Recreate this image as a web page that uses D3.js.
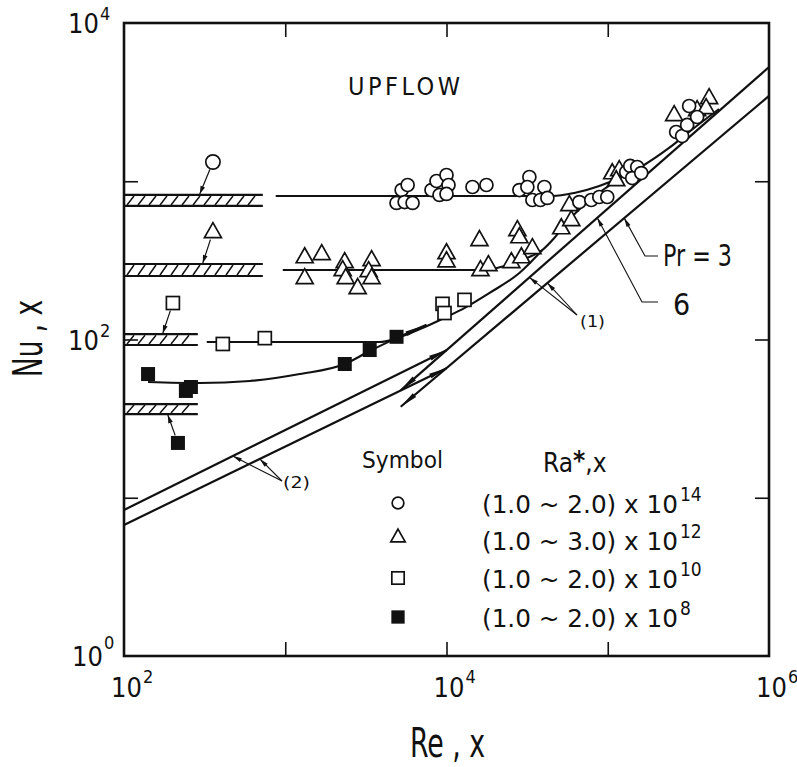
<!DOCTYPE html>
<html>
<head>
<meta charset="utf-8">
<script src="https://cdn.jsdelivr.net/npm/d3@7"></script>
<style>
  body { margin: 0; background: #fff; }
  svg { display: block; }
  text { font-family: "Liberation Sans Narrow", "DejaVu Sans Condensed", "Liberation Sans", Arial, sans-serif; fill: #111; }
</style>
</head>
<body>
<svg id="chart" width="797" height="767"></svg>
<script>
// ---------------- data ----------------
// axis ticks (decades) and the decades that carry a label
const reTicks = [1e2, 1e3, 1e4, 1e5, 1e6];
const nuTicks = [1e0, 1e1, 1e2, 1e3, 1e4];
const reLabelExps = [2, 4, 6];
const nuLabelExps = [0, 2, 4];

// measured local Nusselt numbers [Re_x, Nu_x]
const ra14Points = [
  [4900, 729], [5270, 880], [5740, 947], [5500, 739], [6160, 729],
  [8070, 880], [8670, 1004], [10000, 1095], [10290, 947], [9050, 819], [10000, 831],
  [14490, 920], [17690, 947],
  [28310, 880], [32660, 1064], [31730, 920], [40450, 920], [34090, 761], [38200, 761], [42220, 784],
  [66620, 739], [79030, 761], [88600, 795], [99290, 795],
  [130200, 1144], [137800, 1249], [152300, 1230], [141800, 1048], [161300, 1127],
  [265600, 2048], [289300, 1932], [310700, 2268], [319700, 2989], [358300, 2547]
];
const ra12Points = [
  [1320, 332], [1683, 347], [1320, 245], [2336, 309], [2270, 275], [2370, 245], [2812, 212],
  [3432, 318], [3289, 271], [3432, 245],
  [10000, 352], [10000, 313], [16010, 426], [16240, 275], [18200, 296], [25260, 309],
  [27520, 492], [28310, 444], [29130, 332], [34090, 379],
  [51500, 506], [59400, 569], [57800, 708],
  [106600, 1127], [117800, 1178], [112900, 1018],
  [258100, 2622], [358300, 2820], [425100, 3358], [407300, 2904]
];
const ra10Points = [[410, 93.7], [747, 102], [9450, 168], [9720, 147], [12930, 178]];
const ra8Points = [[141, 60.5], [242, 47.3], [260, 50.1], [2340, 70.0], [3340, 85.8], [4900, 104]];

// faired curves through each data group
const ra14Curve = [[873, 807], [45300, 807], [62000, 843], [88600, 933], [121000, 1064],
  [168000, 1267], [240000, 1623], [343000, 2171], [490000, 2862]];
const ra12Curve = [[965, 275], [16700, 275], [22900, 291], [30400, 323], [39300, 368],
  [46600, 438], [55300, 545], [73600, 729], [95100, 893], [121000, 1064]];
const ra10Curve = [[326, 96.4], [3850, 96.4], [4900, 102], [6800, 116], [10000, 139],
  [12900, 158], [18500, 197], [28300, 263], [39300, 368]];
const ra8Curve = [[141, 53.9], [295, 53.1], [603, 54.7], [1230, 60.5], [2340, 70.0],
  [3340, 84.6], [4900, 102], [7520, 124]];

// forced-convection predictions: laminar (2) and turbulent (1), Pr = 6 and Pr = 3
const laminarPr6 = [[1e2, 8.37], [1e4, 85.6]];
const laminarPr3 = [[1e2, 6.73], [1e4, 65.9]];
const turbulentPr6 = [[5200, 47.7], [1e6, 5270]];
const turbulentPr3 = [[5200, 37.6], [1e6, 3460]];

// pure free-convection levels (hatched bands) and the single points above them
const bandShapes = ["circle", "triangle", "square", "filled"];
const bandTopNu = [819, 300, 108, 39.1];
const bandBottomNu = [698, 252, 92.3, 33.8];
const bandEndRe = [726, 726, 287, 287];
const freeRe = [356, 356, 201, 216];
const freeNu = [1323, 478, 170, 22.2];
const freeArrowRe = [295, 308, 174, 187];

// legend
const legendShapes = ["circle", "triangle", "square", "filled"];
const legendRanges = ["(1.0 ~ 2.0) x 10", "(1.0 ~ 3.0) x 10", "(1.0 ~ 2.0) x 10", "(1.0 ~ 2.0) x 10"];
const legendExps = ["14", "12", "10", "8"];

// ---------------- drawing ----------------
const svg = d3.select("#chart");
const L = 124, R = 769, T = 23, B = 656;
const x = d3.scaleLog().domain([1e2, 1e6]).range([L, R]);
const y = d3.scaleLog().domain([1, 1e4]).range([B, T]);
const ink = "#111";

const line = d3.line().x(d => x(d[0])).y(d => y(d[1]));
const smooth = d3.line().x(d => x(d[0])).y(d => y(d[1])).curve(d3.curveMonotoneX);

// Nu on a straight log-log segment at a given Re
function nuOn(seg, re) {
  const [a, b] = seg;
  const t = (Math.log10(re) - Math.log10(a[0])) / (Math.log10(b[0]) - Math.log10(a[0]));
  return Math.pow(10, Math.log10(a[1]) + t * (Math.log10(b[1]) - Math.log10(a[1])));
}

function arrowHead(g, x1, y1, x2, y2, len, half) {
  const ang = Math.atan2(y2 - y1, x2 - x1);
  const bx = x2 - len * Math.cos(ang), by = y2 - len * Math.sin(ang);
  const nx = -Math.sin(ang) * half, ny = Math.cos(ang) * half;
  g.append("path")
    .attr("d", `M${x2},${y2}L${bx + nx},${by + ny}L${bx - nx},${by - ny}Z`)
    .attr("fill", ink);
}

// power-of-ten label as one text element: "10" plus a raised exponent
function powerLabel(g, px, py, exp, size, supSize, rise) {
  const t = g.append("text").attr("x", px).attr("y", py).attr("font-size", size);
  t.append("tspan").text("10");
  t.append("tspan").attr("dx", 1).attr("dy", -rise).attr("font-size", supSize).text(exp);
  return t;
}

// axes: inward decade ticks on all four sides
const axes = svg.append("g").attr("class", "axes");
const inner = 14;
axes.append("g").attr("transform", `translate(0,${B})`)
  .call(d3.axisBottom(x).tickValues(reTicks.slice(1, -1)).tickSize(-inner).tickFormat(""));
axes.append("g").attr("transform", `translate(0,${T})`)
  .call(d3.axisTop(x).tickValues(reTicks.slice(1, -1)).tickSize(-inner).tickFormat(""));
axes.append("g").attr("transform", `translate(${L},0)`)
  .call(d3.axisLeft(y).tickValues(nuTicks.slice(1, -1)).tickSize(-inner).tickFormat(""));
axes.append("g").attr("transform", `translate(${R},0)`)
  .call(d3.axisRight(y).tickValues(nuTicks.slice(1, -1)).tickSize(-inner).tickFormat(""));
axes.selectAll(".domain").remove();
axes.selectAll(".tick line").attr("stroke", ink).attr("stroke-width", 1.6);
svg.append("rect").attr("x", L).attr("y", T).attr("width", R - L).attr("height", B - T)
  .attr("fill", "none").attr("stroke", ink).attr("stroke-width", 2.6);

// tick labels 10^n
const labels = svg.append("g");
reLabelExps.forEach(e => {
  const cx = x(Math.pow(10, e));
  powerLabel(labels, cx - 13, 697, String(e), 27, 18, 14);
});
nuLabelExps.forEach(e => {
  const cy = y(Math.pow(10, e));
  powerLabel(labels, e === 0 ? 72 : 68, cy + 10, String(e), 27, 18, e === 0 ? 17 : 13);
});

// axis titles
svg.append("text").attr("x", 410).attr("y", 757).attr("font-size", 40)
  .attr("textLength", 75).attr("lengthAdjust", "spacingAndGlyphs").text("Re , x");
svg.append("text").attr("transform", "translate(42,377) rotate(-90)").attr("font-size", 40)
  .attr("textLength", 77).attr("lengthAdjust", "spacingAndGlyphs").text("Nu , x");

// plot content
const plot = svg.append("g");

// theory lines
[laminarPr6, laminarPr3, turbulentPr6, turbulentPr3].forEach(seg => {
  plot.append("path").attr("d", line(seg)).attr("fill", "none")
    .attr("stroke", ink).attr("stroke-width", 2.2);
});
// arrowheads at the laminar ends and at the turbulent starts
[laminarPr6, laminarPr3].forEach(seg => {
  const p = seg[1];
  const q = [8000, nuOn(seg, 8000)];
  arrowHead(plot, x(q[0]), y(q[1]), x(p[0]), y(p[1]), 18, 2.6);
});
[turbulentPr6, turbulentPr3].forEach(seg => {
  const p = seg[0];
  const q = [7000, nuOn(seg, 7000)];
  arrowHead(plot, x(q[0]), y(q[1]), x(p[0]), y(p[1]), 18, 2.6);
});

// faired data curves
[ra14Curve, ra12Curve, ra10Curve].forEach(c => {
  plot.append("path").attr("d", smooth(c)).attr("fill", "none")
    .attr("stroke", ink).attr("stroke-width", 2.1);
});
plot.append("path").attr("d", smooth(ra8Curve)).attr("fill", "none")
  .attr("stroke", ink).attr("stroke-width", 2.1);
{
  const n = ra8Curve.length;
  const a = ra8Curve[n - 2], b = ra8Curve[n - 1];
  arrowHead(plot, x(a[0]), y(a[1]), x(b[0]), y(b[1]), 22, 2.4);
}

// hatched free-convection bands
bandTopNu.forEach((top, i) => {
  const x0 = x(1e2), x1 = x(bandEndRe[i]);
  const yt = y(top), yb = y(bandBottomNu[i]);
  const g = plot.append("g");
  g.append("line").attr("x1", x0).attr("x2", x1).attr("y1", yt).attr("y2", yt)
    .attr("stroke", ink).attr("stroke-width", 2.2);
  g.append("line").attr("x1", x0).attr("x2", x1).attr("y1", yb).attr("y2", yb)
    .attr("stroke", ink).attr("stroke-width", 2.2);
  for (let px = x0 + 3; px + 7 <= x1 - 2; px += 11) {
    g.append("line").attr("x1", px).attr("y1", yb - 1).attr("x2", px + 7).attr("y2", yt + 1)
      .attr("stroke", ink).attr("stroke-width", 1.5);
  }
});

// markers
function marker(g, shape, cx, cy, k) {
  const s = k || 1;
  if (shape === "circle") {
    g.append("circle").attr("cx", cx).attr("cy", cy).attr("r", 6.5 * s)
      .attr("fill", "#fff").attr("stroke", ink).attr("stroke-width", 1.7);
  } else if (shape === "triangle") {
    const w = 17 * s, h = 15 * s;
    g.append("path")
      .attr("d", `M${cx},${cy - h * 0.62}L${cx + w / 2},${cy + h * 0.38}L${cx - w / 2},${cy + h * 0.38}Z`)
      .attr("fill", "#fff").attr("stroke", ink).attr("stroke-width", 1.7).attr("stroke-linejoin", "miter");
  } else if (shape === "square") {
    const a = 13 * s;
    g.append("rect").attr("x", cx - a / 2).attr("y", cy - a / 2).attr("width", a).attr("height", a)
      .attr("fill", "#fff").attr("stroke", ink).attr("stroke-width", 1.7);
  } else {
    const a = 14 * s;
    g.append("rect").attr("x", cx - a / 2).attr("y", cy - a / 2).attr("width", a).attr("height", a)
      .attr("fill", ink);
  }
}

const marks = plot.append("g");
ra10Points.forEach(d => marker(marks, "square", x(d[0]), y(d[1])));
ra8Points.forEach(d => marker(marks, "filled", x(d[0]), y(d[1])));
ra12Points.forEach(d => marker(marks, "triangle", x(d[0]), y(d[1])));
ra14Points.forEach(d => marker(marks, "circle", x(d[0]), y(d[1])));

// free-convection points with arrows to their bands
freeRe.forEach((re, i) => {
  const cx = x(re), cy = y(freeNu[i]);
  marker(marks, bandShapes[i], cx, cy, i === 0 ? 1.1 : 1);
  const below = freeNu[i] < bandBottomNu[i];
  const tx = x(freeArrowRe[i]);
  const ty = below ? y(bandBottomNu[i]) + 1 : y(bandTopNu[i]) - 1;
  const ang = Math.atan2(ty - cy, tx - cx);
  const sx = cx + 8 * Math.cos(ang), sy = cy + 8 * Math.sin(ang);
  marks.append("line").attr("x1", sx).attr("y1", sy).attr("x2", tx).attr("y2", ty)
    .attr("stroke", ink).attr("stroke-width", 1.2);
  arrowHead(marks, sx, sy, tx, ty, 8, 2.4);
});

// annotations
const ann = svg.append("g");
function leader(pts, tip) {
  ann.append("path").attr("d", d3.line()(pts.concat([tip]))).attr("fill", "none")
    .attr("stroke", ink).attr("stroke-width", 1.1);
  const p = pts[pts.length - 1];
  arrowHead(ann, p[0], p[1], tip[0], tip[1], 9, 2.2);
}
// Pr = 3 (lower turbulent line) and 6 (upper turbulent line)
leader([[658, 256], [645, 256]], [x(126500), y(nuOn(turbulentPr3, 126500))]);
leader([[658, 302], [642, 302]], [x(86100), y(nuOn(turbulentPr6, 86100))]);
// (1) and (2) markers
leader([[577, 315]], [x(32660), y(nuOn(turbulentPr6, 32660))]);
leader([[577, 315]], [x(42220), y(nuOn(turbulentPr3, 42220))]);
leader([[282, 481]], [x(473), y(nuOn(laminarPr6, 473))]);
leader([[282, 481]], [x(695), y(nuOn(laminarPr3, 695))]);

ann.append("text").attr("x", 663).attr("y", 266).attr("font-size", 30)
  .attr("textLength", 69).attr("lengthAdjust", "spacingAndGlyphs").text("Pr = 3");
ann.append("text").attr("x", 673).attr("y", 315).attr("font-size", 30).text("6");
ann.append("text").attr("x", 580).attr("y", 327).attr("font-size", 16)
  .attr("textLength", 25).attr("lengthAdjust", "spacingAndGlyphs").text("(1)");
ann.append("text").attr("x", 283).attr("y", 488).attr("font-size", 16)
  .attr("textLength", 27).attr("lengthAdjust", "spacingAndGlyphs").text("(2)");
ann.append("text").attr("x", 348).attr("y", 95).attr("font-size", 25)
  .attr("textLength", 112).attr("lengthAdjust", "spacing").text("UPFLOW");

// legend
const leg = svg.append("g");
leg.append("text").attr("x", 362).attr("y", 468).attr("font-size", 23)
  .attr("textLength", 81).attr("lengthAdjust", "spacingAndGlyphs").text("Symbol");
{
  const h = leg.append("text").attr("x", 543).attr("y", 472).attr("font-size", 26);
  h.append("tspan").text("Ra");
  h.append("tspan").attr("dy", -2).attr("font-weight", "bold").text("*");
  h.append("tspan").attr("dy", 2).text(",x");
}
const rowBase = [513, 550, 588, 627];
const rowSym = [503, 537, 578, 617];
legendShapes.forEach((s, i) => {
  marker(leg, s, 398, rowSym[i], s === "triangle" ? 0.85 : (s === "circle" ? 0.9 : 0.95));
  const t = leg.append("text").attr("x", 482).attr("y", rowBase[i]).attr("font-size", 24);
  t.append("tspan").attr("textLength", 196).attr("lengthAdjust", "spacingAndGlyphs").text(legendRanges[i]);
  t.append("tspan").attr("dx", 2).attr("dy", -12).attr("font-size", 19).text(legendExps[i]);
});
</script>
</body>
</html>
